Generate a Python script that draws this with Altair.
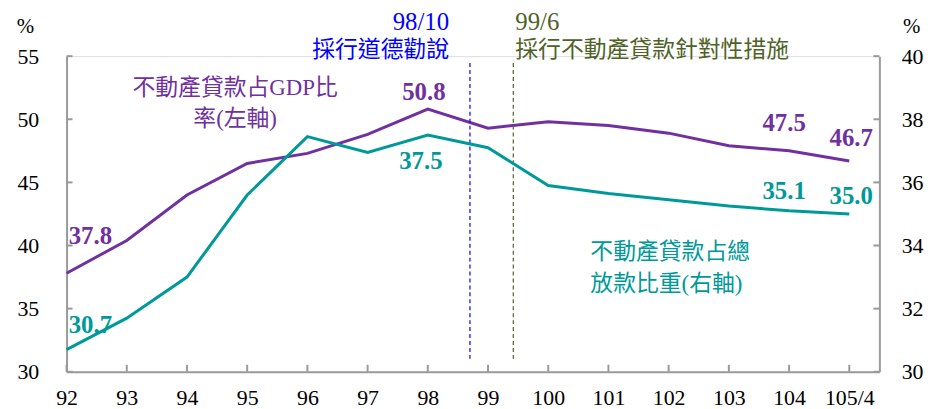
import altair as alt
import pandas as pd

# ---- data ----
x_labels = ["92", "93", "94", "95", "96", "97", "98", "99", "100", "101", "102", "103", "104", "105/4"]
gdp_ratio = [37.8, 40.4, 44.0, 46.5, 47.3, 48.8, 50.8, 49.3, 49.8, 49.5, 48.9, 47.9, 47.5, 46.7]
loan_share = [30.7, 31.7, 33.0, 35.6, 37.45, 36.95, 37.5, 37.1, 35.9, 35.65, 35.45, 35.25, 35.1, 35.0]

events_x = [6.7, 7.42]
events_date = ["98/10", "99/6"]
events_text = ["採行道德勸說", "採行不動產貸款針對性措施"]
events_color = ["#0000FF", "#4F6228"]

PURPLE = "#7030A0"
TEAL = "#009999"
AXIS = "#9A9A9A"
LATIN = "Liberation Serif, Times New Roman, serif"
SERIF = "Liberation Serif, 'Noto Sans CJK TC'"

W, H = 819, 318
XMAX = 13.5

idx = list(range(len(x_labels)))
df = pd.DataFrame({"i": idx, "label": x_labels, "gdp": gdp_ratio, "share": loan_share})

label_expr = "[" + ",".join("'%s'" % s for s in x_labels) + "][datum.value]"

xs = alt.Scale(domain=[0, XMAX], nice=False, zero=False)
ys_left = alt.Scale(domain=[30, 55], nice=False, zero=False)
ys_right = alt.Scale(domain=[30, 40], nice=False, zero=False)

x_enc = alt.X(
    "i:Q", scale=xs,
    axis=alt.Axis(values=idx, labelExpr=label_expr, title=None, grid=False, labelFlush=False,
                  domainColor=AXIS, domainWidth=2, tickSize=0, labelPadding=16,
                  labelFont=LATIN, labelFontSize=22, labelColor="#000"),
)

base = alt.Chart(df)

# ---- left layer ----
purple_line = base.mark_line(color=PURPLE, strokeWidth=3).encode(
    x=x_enc,
    y=alt.Y("gdp:Q", scale=ys_left,
            axis=alt.Axis(values=[30, 35, 40, 45, 50, 55], title="%", titleAngle=0,
                          titleX=-42, titleY=-30, titleAlign="center", titleBaseline="middle",
                          titleFont=LATIN, titleFontSize=21, titleFontWeight="normal",
                          grid=False, labelFlush=False, domainColor=AXIS, domainWidth=2,
                          tickSize=0, labelPadding=28,
                          labelFont=LATIN, labelFontSize=22, labelColor="#000")),
)

left_ticks_df = pd.DataFrame({"v": [30, 35, 40, 45, 50, 55]})
left_ticks = alt.Chart(left_ticks_df).mark_rule(color=AXIS, strokeWidth=2).encode(
    y=alt.Y("v:Q", scale=ys_left), x=alt.value(0), x2=alt.value(6))

bottom_ticks = alt.Chart(pd.DataFrame({"i": idx})).mark_rule(color=AXIS, strokeWidth=2).encode(
    x=alt.X("i:Q", scale=xs), y=alt.value(H - 7), y2=alt.value(H))

ev_df = pd.DataFrame({"x": events_x, "date": events_date, "text": events_text, "c": events_color})
ev_rule = alt.Chart(ev_df).mark_rule(strokeWidth=1.2, strokeDash=[4, 3]).encode(
    x=alt.X("x:Q", scale=xs), y=alt.value(7), y2=alt.value(305),
    color=alt.Color("c:N", scale=None))

ev1 = ev_df.iloc[[0]]
ev2 = ev_df.iloc[[1]]
ev_texts = []
for d, align, dx in [(ev1, "right", -21), (ev2, "left", 2)]:
    c = d["c"].iloc[0]
    ev_texts.append(alt.Chart(d).mark_text(align=align, baseline="middle", dx=dx, font=SERIF,
                                           fontSize=25, color=c).encode(
        x=alt.X("x:Q", scale=xs), y=alt.value(-34), text="date:N"))
    ev_texts.append(alt.Chart(d).mark_text(align=align, baseline="middle", dx=dx, font=SERIF,
                                           fontSize=23, color=c).encode(
        x=alt.X("x:Q", scale=xs), y=alt.value(-6), text="text:N"))

# series name, left
p_name = pd.DataFrame({"x": [2.8, 2.8], "y": [52.48, 50.05], "t": ["不動產貸款占GDP比", "率(左軸)"]})
p_name_text = alt.Chart(p_name).mark_text(align="center", baseline="middle", font=SERIF,
                                          fontSize=23, color=PURPLE).encode(
    x=alt.X("x:Q", scale=xs), y=alt.Y("y:Q", scale=ys_left), text="t:N")

# value labels, purple
p_lab_idx = [0, 6, 12, 13]
p_lab_dx = [24, -4, -5, 2]
p_lab_dy = [-38, -17, -28, -23]
p_labels = []
for k, dx, dy in zip(p_lab_idx, p_lab_dx, p_lab_dy):
    p_labels.append(alt.Chart(df.iloc[[k]]).mark_text(
        align="center", baseline="middle", dx=dx, dy=dy, font=LATIN,
        fontSize=25, fontWeight="bold", color=PURPLE).encode(
        x=alt.X("i:Q", scale=xs), y=alt.Y("gdp:Q", scale=ys_left),
        text=alt.Text("gdp:Q", format=".1f")))

left = alt.layer(purple_line, left_ticks, bottom_ticks, ev_rule, p_name_text, *ev_texts, *p_labels)

# ---- right layer ----
teal_line = base.mark_line(color=TEAL, strokeWidth=3).encode(
    x=alt.X("i:Q", scale=xs),
    y=alt.Y("share:Q", scale=ys_right,
            axis=alt.Axis(orient="right", values=[30, 32, 34, 36, 38, 40], title="%", titleAngle=0,
                          titleX=32, titleY=-30, titleAlign="center", titleBaseline="middle",
                          titleFont=LATIN, titleFontSize=21, titleFontWeight="normal",
                          grid=False, labelFlush=False, domainColor=AXIS, domainWidth=2,
                          tickSize=0, labelPadding=22,
                          labelFont=LATIN, labelFontSize=22, labelColor="#000")),
)
right_ticks = alt.Chart(pd.DataFrame({"v": [30, 32, 34, 36, 38, 40]})).mark_rule(
    color=AXIS, strokeWidth=2).encode(
    y=alt.Y("v:Q", scale=ys_right), x=alt.value(W - 6), x2=alt.value(W))

t_name = pd.DataFrame({"x": [8.7, 8.7], "y": [33.8, 32.78], "t": ["不動產貸款占總", "放款比重(右軸)"]})
t_name_text = alt.Chart(t_name).mark_text(align="left", baseline="middle", font=SERIF,
                                          fontSize=23, color=TEAL).encode(
    x=alt.X("x:Q", scale=xs), y=alt.Y("y:Q", scale=ys_right), text="t:N")

t_lab_idx = [0, 6, 12, 13]
t_lab_dx = [24, -7, -5, 2]
t_lab_dy = [-25, 26, -20, -18]
t_labels = []
for k, dx, dy in zip(t_lab_idx, t_lab_dx, t_lab_dy):
    t_labels.append(alt.Chart(df.iloc[[k]]).mark_text(
        align="center", baseline="middle", dx=dx, dy=dy, font=LATIN,
        fontSize=25, fontWeight="bold", color=TEAL).encode(
        x=alt.X("i:Q", scale=xs), y=alt.Y("share:Q", scale=ys_right),
        text=alt.Text("share:Q", format=".1f")))

right = alt.layer(teal_line, right_ticks, t_name_text, *t_labels)

chart = alt.layer(left, right).resolve_scale(y="independent").properties(
    width=W, height=H,
    autosize=alt.AutoSizeParams(type="none"),
    padding={"left": 59, "top": 47, "right": 50, "bottom": 36},
).configure_view(stroke=None).configure_axis(
    labelFont=LATIN, titleFont=LATIN
).configure(background="white")

chart.save("out.html", embed_options={"renderer": "svg", "actions": False})
